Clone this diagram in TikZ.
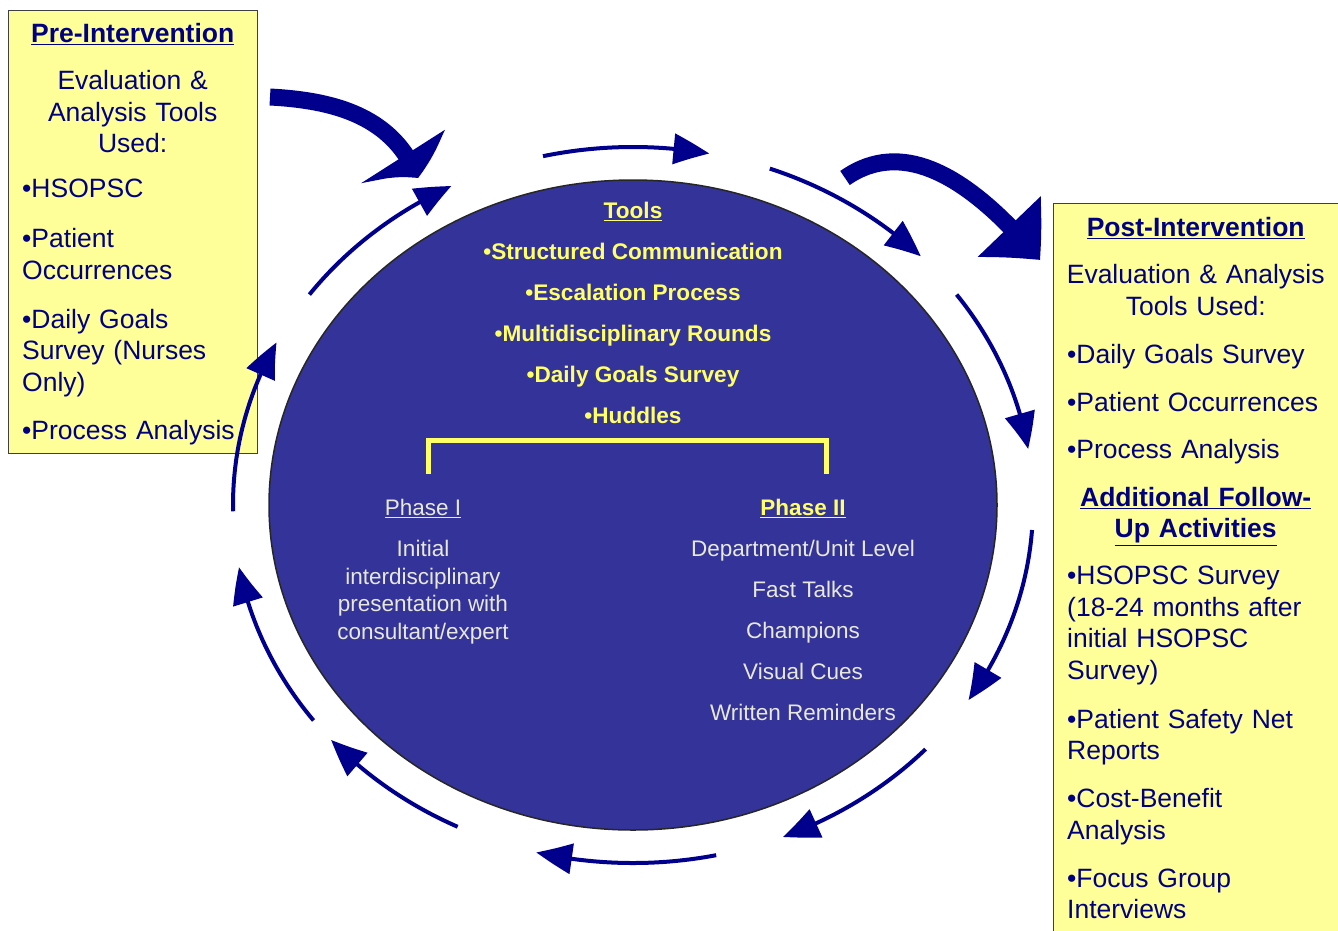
\documentclass[tikz,border=0pt]{standalone}
\usepackage{fontspec}
\setmainfont{Liberation Sans}
\usetikzlibrary{%
  shapes,
  arrows.meta,
  positioning,
  bending
}
\definecolor{boxyellow}{RGB}{255,255,153}
\definecolor{boxnavy}{RGB}{0,0,128}
\definecolor{ringnavy}{RGB}{0,0,140}
\definecolor{cycleblue}{RGB}{51,51,153}
\definecolor{toolyellow}{RGB}{255,255,102}
\definecolor{phasegray}{RGB}{232,232,218}
\tikzstyle{notebox} = [draw=black!75, fill=boxyellow, rectangle, line width=1.2pt, inner sep=0pt]
\tikzstyle{notetext} = [text=boxnavy, align=left, inner sep=0pt, font=\fontsize{26.5}{31.5}\selectfont]
\tikzstyle{cycleblock} = [draw=black!85, fill=cycleblue, ellipse, line width=1.5pt, inner sep=0pt]
\tikzstyle{toolstext} = [text=toolyellow, align=center, inner sep=0pt, font=\bfseries\fontsize{22.6}{41}\selectfont]
\tikzstyle{phasetext} = [text=phasegray, align=center, inner sep=0pt, font=\fontsize{22.5}{27.5}\selectfont]
\tikzstyle{ringarrow} = [draw=ringnavy, line width=4pt, -{Triangle[length=36pt, width=30pt, bend]}]
\tikzstyle{bigarrow} = [draw=ringnavy, line width=17pt]
\tikzstyle{bracket} = [draw=toolyellow, line width=5pt]

\begin{document}
\begin{tikzpicture}[x=1pt, y=1pt]
        \useasboundingbox (0,0) rectangle (1338,-930);
        \clip (0,0) rectangle (1338,-930);
        \node[cycleblock, minimum width=728pt, minimum height=650pt] (cycle) at (633,-505) {};
        \node[notebox, minimum width=249pt, minimum height=443pt, anchor=north west] (prebox) at (8,-10) {};
        \node[notebox, minimum width=300pt, minimum height=740pt, anchor=north west] (postbox) at (1053,-203) {};
        \node[notetext, text width=221pt, anchor=north west] (pretext) at ([xshift=14pt, yshift=-13.5pt]prebox.north west) {%
          \makebox[221pt]{\bfseries\underline{Pre-Intervention}}\\[15.5pt]
          \makebox[221pt]{Evaluation \&}\\
          \makebox[221pt]{Analysis Tools}\\
          \makebox[221pt]{Used:}\\[13.5pt]
          •HSOPSC\\[18.5pt]
          •Patient\\ Occurrences\\[17.5pt]
          •Daily Goals\\ Survey (Nurses\\ Only)\\[16.5pt]
          •Process Analysis};
        \node[notetext, text width=257pt, anchor=north west] (posttext) at ([xshift=14pt, yshift=-14.5pt]postbox.north west) {%
          \makebox[257pt]{\bfseries\underline{Post-Intervention}}\\[15.5pt]
          \makebox[257pt]{Evaluation \& Analysis}\\
          \makebox[257pt]{Tools Used:}\\[16.5pt]
          •Daily Goals Survey\\[16.5pt]
          •Patient Occurrences\\[15.5pt]
          •Process Analysis\\[16.5pt]
          \makebox[257pt]{\bfseries\underline{Additional Follow-}}\\
          \makebox[257pt]{\bfseries\underline{Up Activities}}\\[15.5pt]
          •HSOPSC Survey\\ (18-24 months after\\ initial HSOPSC\\ Survey)\\[17.5pt]
          •Patient Safety Net\\ Reports\\[16.5pt]
          •Cost-Benefit\\ Analysis\\[16.5pt]
          •Focus Group\\ Interviews};
        \node[toolstext, anchor=north] (tools) at ([yshift=-23pt]cycle.north) {\underline{Tools}\\ •Structured Communication\\ •Escalation Process\\ •Multidisciplinary Rounds\\ •Daily Goals Survey\\ •Huddles};
        \node[phasetext, anchor=north] (phaseone) at (423,-499) {\underline{Phase I}\\[13.5pt] Initial\\ interdisciplinary\\ presentation with\\ consultant/expert};
        \node[phasetext, font=\fontsize{22.5}{41}\selectfont, anchor=north] (phasetwo) at (803,-499) {\textcolor{toolyellow}{\bfseries\underline{Phase II}}\\ Department/Unit Level\\ Fast Talks\\ Champions\\ Visual Cues\\ Written Reminders};
        \coordinate (brleft) at (428,-474);
        \coordinate (brright) at (826,-474);
        \draw[bracket] (brleft) -- ++(0,34) -| (brright);
        \draw[ringarrow] ([shift={(cycle.center)}]181:400 and 358) arc[start angle=181, end angle=153, x radius=400, y radius=358];
        \draw[ringarrow] ([shift={(cycle.center)}]144:400 and 358) arc[start angle=144, end angle=117, x radius=400, y radius=358];
        \draw[ringarrow] ([shift={(cycle.center)}]103:400 and 358) arc[start angle=103, end angle=79, x radius=400, y radius=358];
        \draw[ringarrow] ([shift={(cycle.center)}]70:400 and 358) arc[start angle=70, end angle=44, x radius=400, y radius=358];
        \draw[ringarrow] ([shift={(cycle.center)}]36:400 and 358) arc[start angle=36, end angle=9, x radius=400, y radius=358];
        \draw[ringarrow] ([shift={(cycle.center)}]-4:400 and 358) arc[start angle=-4, end angle=-33, x radius=400, y radius=358];
        \draw[ringarrow] ([shift={(cycle.center)}]-43:400 and 358) arc[start angle=-43, end angle=-68, x radius=400, y radius=358];
        \draw[ringarrow] ([shift={(cycle.center)}]-78:400 and 358) arc[start angle=-78, end angle=-104, x radius=400, y radius=358];
        \draw[ringarrow] ([shift={(cycle.center)}]-116:400 and 358) arc[start angle=-116, end angle=-139, x radius=400, y radius=358];
        \draw[ringarrow] ([shift={(cycle.center)}]-143:400 and 358) arc[start angle=-143, end angle=-170, x radius=400, y radius=358];
        \coordinate (pretail) at (270,-97);
        \coordinate (pretip) at (418,-178);
        \draw[bigarrow, -{Triangle[length=27pt, width=95pt, bend]}] (pretail) to[out=-3, in=112] (pretip);
        \coordinate (posttail) at (845,-178);
        \coordinate (posttip) at (1040,-260);
        \draw[bigarrow, -{Triangle[length=45pt, width=85pt, bend]}] (posttail) to[out=35, in=130] (posttip);
\end{tikzpicture}
\end{document}
